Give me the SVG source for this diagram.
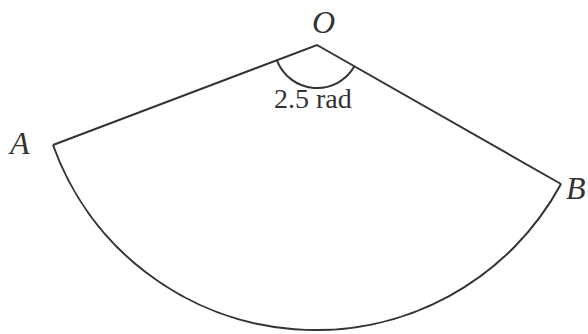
<svg xmlns="http://www.w3.org/2000/svg" width="588" height="334" viewBox="0 0 588 334">
<style>
.ln{fill:none;stroke:#333;stroke-width:2;stroke-linejoin:miter}
.lbl{font-family:"Liberation Serif","Times New Roman",serif;font-style:italic;font-size:32px;fill:#333}
.ang{font-family:"Liberation Serif","Times New Roman",serif;font-size:28px;fill:#333}
</style>
<rect width="588" height="334" fill="#fff"/>
<g id="connectors">
<path class="ln" d="M53,145 L317,45 L561,184"/>
<path class="ln" d="M53,145 A279,279 0 0 0 561,184"/>
<path class="ln" d="M276.8,60.2 A43,43 0 0 0 354.4,66.3"/>
</g>
<g id="O"><text class="lbl" x="312" y="33">O</text></g>
<g id="A"><text class="lbl" x="10" y="154">A</text></g>
<g id="B"><text class="lbl" x="566" y="199">B</text></g>
<g id="angle"><text class="ang" x="274" y="108">2.5 rad</text></g>
</svg>
